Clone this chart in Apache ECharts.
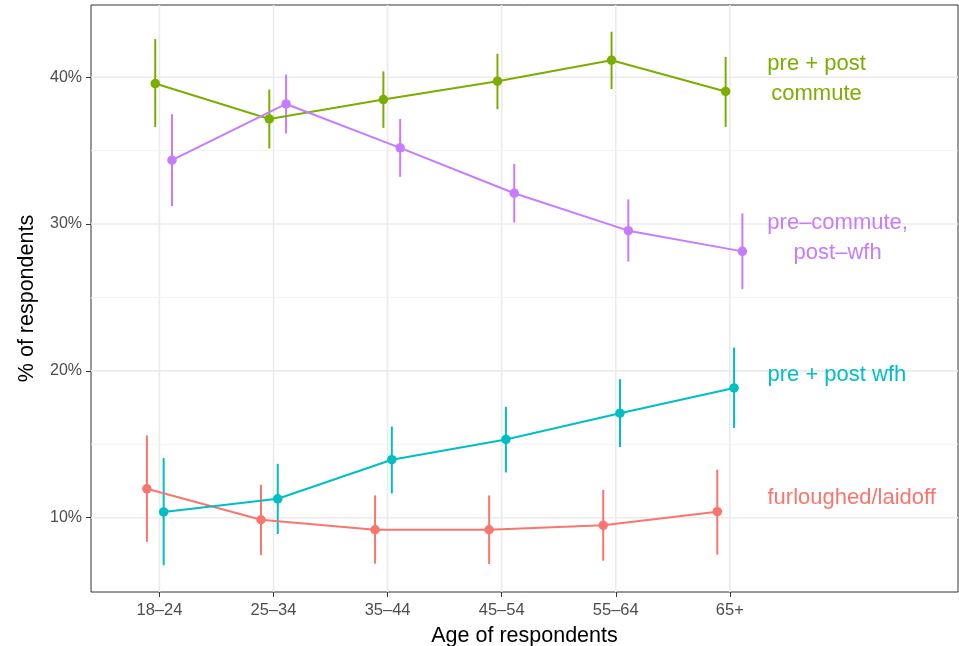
<!DOCTYPE html>
<html><head><meta charset="utf-8">
<script src="https://cdn.jsdelivr.net/npm/echarts@6/dist/echarts.min.js"></script>
<style>html,body{margin:0;padding:0;background:#fff}#c{width:959px;height:646px}</style>
</head><body><div id="c"></div>
<script>
// ---- data ----
const categories = ['18–24', '25–34', '35–44', '45–54', '55–64', '65+'];
const groups = ['furloughed/laidoff', 'pre + post commute', 'pre + post wfh', 'pre–commute, post–wfh'];

const furloughed   = [11.97, 9.86, 9.18, 9.18, 9.48, 10.41];
const furloughedLo = [8.35, 7.46, 6.87, 6.85, 7.07, 7.49];
const furloughedHi = [15.60, 12.24, 11.52, 11.52, 11.89, 13.27];

const prePostCommute   = [39.57, 37.16, 38.48, 39.73, 41.16, 39.03];
const prePostCommuteLo = [36.60, 35.15, 36.55, 37.82, 39.20, 36.62];
const prePostCommuteHi = [42.60, 39.16, 40.40, 41.60, 43.10, 41.38];

const prePostWfh   = [10.39, 11.29, 13.95, 15.33, 17.12, 18.84];
const prePostWfhLo = [6.76, 8.89, 11.65, 13.08, 14.81, 16.10];
const prePostWfhHi = [14.06, 13.67, 16.21, 17.55, 19.43, 21.59];

const preCommutePostWfh   = [34.35, 38.18, 35.19, 32.10, 29.55, 28.14];
const preCommutePostWfhLo = [31.22, 36.17, 33.22, 30.10, 27.44, 25.57];
const preCommutePostWfhHi = [37.48, 40.18, 37.16, 34.10, 31.68, 30.73];

const yTicks = [10, 20, 30, 40];
const yMinorTicks = [15, 25, 35];

const labelTexts = ['furloughed/laidoff', 'pre + post wfh', 'pre–commute,\npost–wfh', 'pre + post\ncommute'];

// ---- styling / layout ----
const FONT = '"Liberation Sans", Arial, Helvetica, sans-serif';
const colors = ['#F8766D', '#7CAE00', '#00BFC4', '#C77CFF'];
const dodge = [-0.11, -0.037, 0.037, 0.11];
const seriesVals = [
  [furloughed, furloughedLo, furloughedHi],
  [prePostCommute, prePostCommuteLo, prePostCommuteHi],
  [prePostWfh, prePostWfhLo, prePostWfhHi],
  [preCommutePostWfh, preCommutePostWfhLo, preCommutePostWfhHi]
];
const xPos = categories.map((c, i) => i + 1);
const X_MIN = 0.4, X_MAX = 8, Y_MIN = 4.94, Y_MAX = 44.92;

const series = [];

// gridlines (drawn beneath everything) via custom series
const gridData = [
  ...xPos.map(v => [0, v, 1]),
  ...yTicks.map(v => [1, v, 1]),
  ...yMinorTicks.map(v => [1, v, 0])
];
series.push({
  type: 'custom', z: 1, silent: true,
  data: gridData,
  encode: { x: -1, y: -1 },
  renderItem: (params, api) => {
    const dir = api.value(0), v = api.value(1), major = api.value(2);
    let p1, p2;
    if (dir === 0) { p1 = api.coord([v, Y_MIN]); p2 = api.coord([v, Y_MAX]); }
    else { p1 = api.coord([X_MIN, v]); p2 = api.coord([X_MAX, v]); }
    return { type: 'line', shape: { x1: p1[0], y1: p1[1], x2: p2[0], y2: p2[1] },
             style: { stroke: major ? '#EBEBEB' : '#F0F0F0', lineWidth: major ? 1.6 : 0.9 } };
  }
});

seriesVals.forEach((arr, g) => {
  const [v, lo, hi] = arr;
  series.push({
    name: groups[g] + ' err', type: 'custom', z: 3,
    data: v.map((_, i) => [xPos[i] + dodge[g], lo[i], hi[i]]),
    encode: { x: 0, y: [1, 2] },
    renderItem: (params, api) => {
      const p1 = api.coord([api.value(0), api.value(1)]);
      const p2 = api.coord([api.value(0), api.value(2)]);
      return { type: 'line', shape: { x1: p1[0], y1: p1[1], x2: p2[0], y2: p2[1] },
               style: { stroke: colors[g], lineWidth: 2 } };
    }
  });
  series.push({
    name: groups[g], type: 'line', z: 4,
    data: v.map((val, i) => [xPos[i] + dodge[g], val]),
    symbol: 'circle', symbolSize: 9.5, showSymbol: true,
    lineStyle: { color: colors[g], width: 2 },
    itemStyle: { color: colors[g] },
    animation: false
  });
});

// direct labels (anchor in data coords, drawn as text elements)
const labelAnchors = [
  { x: 6.33, y: 11.36, align: 'left', color: colors[0] },
  { x: 6.33, y: 19.74, align: 'left', color: colors[2] },
  { x: 6.945, y: 29.04, align: 'center', color: colors[3] },
  { x: 6.76, y: 39.86, align: 'center', color: colors[1] }
];
series.push({
  type: 'custom', z: 5, silent: true,
  data: labelAnchors.map((a, i) => [a.x, a.y, i]),
  encode: { x: 0, y: 1 },
  renderItem: (params, api) => {
    const i = api.value(2);
    const a = labelAnchors[i];
    const p = api.coord([api.value(0), api.value(1)]);
    return { type: 'text', x: p[0], y: p[1],
      style: { text: labelTexts[i], fill: a.color, fontSize: 22, fontFamily: FONT,
               align: a.align, verticalAlign: 'middle', textAlign: a.align, textVerticalAlign: 'middle',
               lineHeight: 30 } };
  }
});

const chart = echarts.init(document.getElementById('c'), null, { renderer: 'canvas' });
chart.setOption({
  animation: false,
  backgroundColor: '#fff',
  grid: { left: 91, right: 1, top: 5, bottom: 54, containLabel: false, outerBoundsMode: 'none',
          show: true, borderColor: '#333333', borderWidth: 1, backgroundColor: 'transparent' },
  xAxis: {
    type: 'value', min: X_MIN, max: X_MAX,
    axisLine: { show: false },
    axisTick: { show: true, customValues: xPos, length: 5, lineStyle: { color: '#333333', width: 1 } },
    axisLabel: { customValues: xPos, formatter: v => categories[Math.round(v) - 1] || '',
                 color: '#4D4D4D', fontSize: 16.5, margin: 10, fontFamily: FONT },
    splitLine: { show: false },
    name: 'Age of respondents', nameLocation: 'middle', nameGap: 33,
    nameTextStyle: { color: '#000', fontSize: 21.5, fontFamily: FONT }
  },
  yAxis: {
    type: 'value', min: Y_MIN, max: Y_MAX,
    axisLine: { show: false },
    axisTick: { show: true, customValues: yTicks, length: 5, lineStyle: { color: '#333333', width: 1 } },
    axisLabel: { customValues: yTicks, formatter: v => v + '%', color: '#4D4D4D', fontSize: 16, margin: 9, fontFamily: FONT },
    splitLine: { show: false },
    name: '% of respondents', nameLocation: 'middle', nameGap: 53, nameRotate: 90,
    nameTextStyle: { color: '#000', fontSize: 21.5, fontFamily: FONT }
  },
  series: series
});
</script>
</body></html>
